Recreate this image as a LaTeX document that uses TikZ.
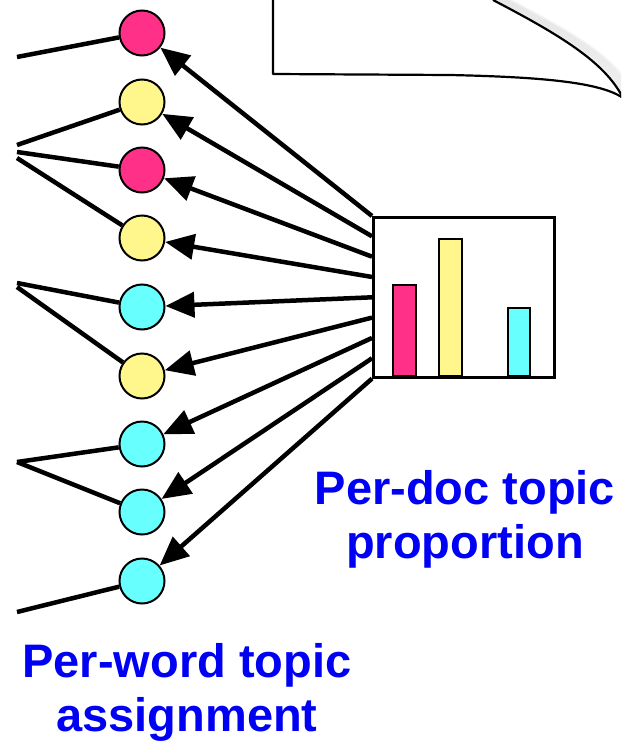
\documentclass[tikz,border=0pt]{standalone}
\usepackage{fontspec}
\setmainfont{Liberation Sans}
\usetikzlibrary{arrows.meta,calc}
\definecolor{tpink}{RGB}{255,48,136}
\definecolor{tyellow}{RGB}{255,247,140}
\definecolor{tcyan}{RGB}{104,255,255}
\definecolor{tblue}{RGB}{0,0,245}
\tikzset{
  word/.style={circle,draw=black,line width=2pt,minimum size=45pt,inner sep=0pt},
  link/.style={line width=4.5pt,black},
  assign/.style={line width=4.5pt,black,-{Triangle[length=29pt,width=25pt]}},
  bar/.style={draw=black,line width=2.2pt},
  caption/.style={text=tblue,font=\bfseries\fontsize{47}{54}\selectfont,align=center,anchor=base,inner sep=0pt},
}
\begin{document}
\begin{tikzpicture}[x=1pt,y=-1pt]
\useasboundingbox (0,0) rectangle (621,744);

% document page with a curled corner
\begin{scope}
  \clip (0,0) rectangle (621,744);
  \foreach \i in {1,...,7}
    \draw[gray,opacity=0.07,line width=3pt]
      ($(493,0)+(\i*1.6,-\i*0.4)$) .. controls ($(560,35)+(\i*1.6,-\i*0.4)$) and ($(605,60)+(\i*1.6,-\i*0.4)$) .. ($(621,95)+(\i*1.6,-\i*0.4)$);
  \draw[line width=2.2pt,line join=round]
    (273,-5) -- (273,74) -- (450,75) .. controls (540,77) and (600,82) .. (623,98);
  \draw[line width=2.2pt]
    (493,0) .. controls (560,35) and (605,62) .. (623,98);
\end{scope}

% per-word topic assignments
\node[word,fill=tpink]   (w1) at (142,33)  {};
\node[word,fill=tyellow] (w2) at (142,102) {};
\node[word,fill=tpink]   (w3) at (142,170) {};
\node[word,fill=tyellow] (w4) at (142,238) {};
\node[word,fill=tcyan]   (w5) at (142,307) {};
\node[word,fill=tyellow] (w6) at (142,376) {};
\node[word,fill=tcyan]   (w7) at (142,444) {};
\node[word,fill=tcyan]   (w8) at (142,512) {};
\node[word,fill=tcyan]   (w9) at (142,581) {};

% edges coming in from the words on the left
\coordinate (l1) at (17,57);
\coordinate (l2) at (17,145);
\coordinate (l3) at (17,152);
\coordinate (l4) at (17,158);
\coordinate (l5) at (17,283);
\coordinate (l6) at (17,287);
\coordinate (l7) at (17,462);
\coordinate (l8) at (17,462);
\coordinate (l9) at (17,612);
\foreach \k in {1,...,9}
  \draw[link] (l\k) -- (w\k);

% per-document topic proportions
\node[draw=black,line width=2.6pt,minimum width=181pt,minimum height=160pt,inner sep=0pt,anchor=north west] (hist) at (372,216) {};
\draw[bar,fill=tpink]   (393,376) rectangle (416,285);
\draw[bar,fill=tyellow] (439,376) rectangle (462,239);
\draw[bar,fill=tcyan]   (508,376) rectangle (530,308);

\foreach \k in {1,...,9}
  \draw[assign] ($(hist.north west)!{(\k-1)/8}!(hist.south west)$) -- (w\k);

% captions (anchored on the baseline of the last line)
\node[caption] (doccap) at (465,558) {Per-doc topic\\proportion};
\node[caption] (wordcap) at (187,731) {Per-word topic\\assignment};
\end{tikzpicture}
\end{document}
